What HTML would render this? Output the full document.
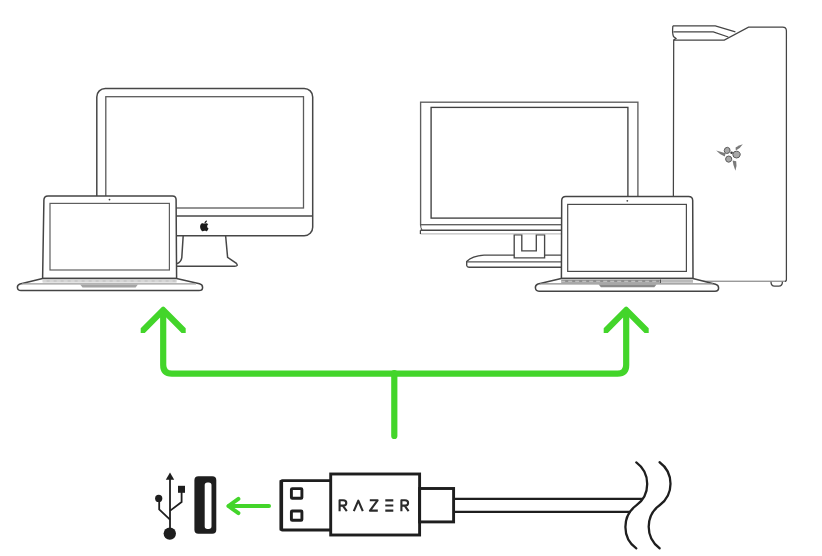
<!DOCTYPE html>
<html><head><meta charset="utf-8">
<style>
html,body{margin:0;padding:0;background:#fff;width:822px;height:556px;overflow:hidden;font-family:"Liberation Sans",sans-serif;}
svg{display:block}
</style></head>
<body>
<svg width="822" height="556" viewBox="0 0 822 556">
<rect width="822" height="556" fill="#fff"/>

<!-- ===== iMac ===== -->
<g fill="none" stroke="#474747" stroke-width="1.5">
  <!-- stand -->
  <path d="M183.2,235.5 L181.8,257.6 Q181.2,262 176.6,263.8 M225.6,235.5 L227.6,257.4 L236.4,263.4 Q238.6,266.2 234.8,266.2 L176,266.2" fill="#fff"/>
  <rect x="96.8" y="88.4" width="215.9" height="147.4" rx="8.5" fill="#fff"/>
  <rect x="105.8" y="96.7" width="197.7" height="111.3" stroke="#5a5a5a" stroke-width="1.3"/>
  <line x1="96.8" y1="216" x2="312.7" y2="216"/>
</g>
<!-- apple logo -->
<g fill="#1c1c1c" transform="translate(204.5,225.8) scale(0.78) translate(-204,-226)">
  <path d="M206.3,221.6 c0.6,-0.7 1,-1.6 0.9,-2.5 c-0.9,0.1 -1.9,0.6 -2.5,1.3 c-0.5,0.6 -1,1.6 -0.9,2.5 c1,0.1 1.9,-0.5 2.5,-1.3z M207.4,226.6 c0,-1.6 1.3,-2.4 1.4,-2.5 c-0.8,-1.1 -2,-1.3 -2.4,-1.3 c-1,-0.1 -2,0.6 -2.5,0.6 c-0.5,0 -1.3,-0.6 -2.2,-0.6 c-1.1,0 -2.2,0.7 -2.8,1.7 c-1.2,2.1 -0.3,5.1 0.8,6.8 c0.6,0.8 1.2,1.7 2.1,1.7 c0.8,0 1.2,-0.5 2.2,-0.5 c1,0 1.3,0.5 2.2,0.5 c0.9,0 1.5,-0.8 2,-1.7 c0.6,-0.9 0.9,-1.8 0.9,-1.9 c0,0 -1.7,-0.7 -1.7,-2.8z"/>
</g>

<!-- ===== left laptop ===== -->
<g fill="none" stroke="#444" stroke-width="1.5">
  <path d="M42.6,278.5 L43.9,200 Q44,195.9 48,195.9 L172.4,195.9 Q176.2,195.9 176.1,200 L176.6,278.5 Z" fill="#fff"/>
  <rect x="50" y="203.4" width="119.4" height="66.6" stroke-width="1.2" stroke="#5e5e5e"/>
  <path d="M42.6,278.4 L20,284 Q17.2,285 17.4,287.5 Q17.6,290.6 21,290.6 L199,290.6 Q202.6,290.6 202.6,287.5 Q202.6,284.6 199.5,283.8 L176.6,278.4 Z" fill="#fff"/>
  <line x1="42.6" y1="281" x2="176.6" y2="281" stroke="#cacaca" stroke-width="3"/>
  <line x1="42.6" y1="281" x2="176.6" y2="281" stroke="#e4e4e4" stroke-width="1.2" stroke-dasharray="4 3"/>
  <line x1="22" y1="283.9" x2="196" y2="283.9" stroke="#9a9a9a" stroke-width="1.1"/>
  <path d="M80.2,284.4 L137.9,284.4 L135.6,287.4 L82.5,287.4 Z" fill="#a4a4a4" stroke="none"/>
</g>
<circle cx="109.5" cy="199.6" r="0.9" fill="#444"/>

<!-- ===== right monitor ===== -->
<g fill="none" stroke="#474747" stroke-width="1.35">
  <!-- base -->
  <path d="M590,255.1 L484,255.1 Q472,256 466.7,261.5 L466.7,265.5 Q467,267.2 469,267.2 L590,267.2" fill="#fff"/>
  <line x1="466.7" y1="261.8" x2="590" y2="261.8" stroke="#555"/>
  <!-- neck -->
  <path d="M514.2,234.8 L514.2,257.8 L544.6,257.8 L544.6,234.8 L536.3,234.8 L536.3,250.8 L521.8,250.8 L521.8,234.8 Z" fill="#fff"/>
  <rect x="420.6" y="102.2" width="217.3" height="122.5" fill="#fff" stroke="#5e5e5e"/>
  <rect x="431.1" y="107.4" width="196.8" height="110.7" stroke="#404040"/>
  <path d="M420.4,230.2 L638,230.2 L638,234 L420.4,234 Z" fill="#fff" stroke="none"/>
  <line x1="420.4" y1="230.2" x2="638" y2="230.2" stroke-width="1.5"/>
  <line x1="420.4" y1="233.9" x2="638" y2="233.9" stroke="#b0b0b0" stroke-width="1"/>
  <path d="M420.4,230.2 L420.4,234" stroke-width="1.2"/>
  <path d="M420.6,224.7 Q420.6,228 422,230.2" stroke-width="1"/>
</g>

<!-- ===== tower ===== -->
<g fill="none" stroke="#444" stroke-width="1.25">
  <path d="M673.7,40.1 L673.2,281.4 L784.4,281.4 Q786.4,281.4 786.4,279.4 L786.4,31 Q786.4,27.2 782.6,27.2 L748.5,27.2 L724.3,40.1 Z" fill="#fff"/>
  <line x1="690" y1="281.4" x2="785" y2="281.4" stroke="#fff" stroke-width="1.6"/>
  <line x1="690" y1="281.4" x2="785" y2="281.4" stroke="#9a9a9a" stroke-width="1.1"/>
  <path d="M672.9,25.9 L715.3,25.9 L735.4,31.9" />
  <path d="M672.9,25.9 Q672,33 673.5,36.5 L676,38.5 L673.7,40.1"/>
  <path d="M673.4,31.9 L713.3,31.9 L728.3,37" stroke-width="1.3"/>
  <path d="M771,281.8 Q771,286.2 774.5,286.2 L778.8,286.2 Q782.4,286.2 782.4,281.8" stroke-width="1.3"/>
</g>
<!-- razer logo on tower -->
<defs><filter id="bl" x="-20%" y="-20%" width="140%" height="140%"><feGaussianBlur stdDeviation="0.4"/></filter></defs>
<g filter="url(#bl)">
 <g fill="#7a7a7a">
  <path d="M716.2,150.6 Q720,152 725.6,153.2 L724.8,156.4 Q720,155 716.2,150.6Z"/>
  <path d="M742.8,144.2 Q739,145 735.6,147.6 L735.8,150.6 Q740,148.6 742.8,144.2Z"/>
  <path d="M732.6,160.6 Q733,165 735.4,170.8 Q737.2,166 736.2,161.2Z"/>
 </g>
 <g fill="#a8a8a8" stroke="#5a5a5a" stroke-width="1">
  <path d="M724.2,150.6 Q724.6,147.2 727.4,147.3 Q730.4,147.6 730.1,151 Q729.5,153.5 726.7,153.5 Q724.3,153.3 724.2,150.6Z"/>
  <path d="M732.8,154.6 Q733,151 736.6,151.2 Q740.4,151.5 740.2,155 Q739.8,158 736.4,158 Q732.8,157.8 732.8,154.6Z"/>
  <path d="M725.6,159 Q725.8,156 728.8,156 Q731.8,156.2 731.8,159.2 Q731.4,162.2 728.6,162.2 Q725.6,162 725.6,159Z"/>
 </g>
 <circle cx="731.6" cy="152.8" r="1.3" fill="#3a3a3a"/>
</g>

<!-- ===== right laptop ===== -->
<g fill="none" stroke="#444" stroke-width="1.5">
  <path d="M561.4,278.5 L561.7,200.4 Q561.8,196.4 565.8,196.4 L688.6,196.4 Q692.6,196.4 692.7,200.4 L693,278.5 Z" fill="#fff"/>
  <rect x="567.7" y="204.4" width="118.7" height="67" stroke-width="1.2" stroke="#4a4a4a"/>
  <path d="M561.2,278.6 L538,284 Q535.2,285 535.4,287.8 Q535.6,291.2 539,291.2 L715,291.2 Q718.6,291.2 718.6,288 Q718.6,285 715.5,284.2 L693,278.6 Z" fill="#fff"/>
  <line x1="561.2" y1="281.2" x2="660.5" y2="281.2" stroke="#8e8e8e" stroke-width="3"/>
  <line x1="660.5" y1="281.2" x2="693" y2="281.2" stroke="#bababa" stroke-width="3"/>
  <line x1="561.2" y1="281.2" x2="660" y2="281.2" stroke="#cfcfcf" stroke-width="1.1" stroke-dasharray="4 3"/>
  <line x1="660.5" y1="279.5" x2="660.5" y2="283" stroke="#555" stroke-width="1"/>
  <line x1="540" y1="283.9" x2="713" y2="283.9" stroke="#8a8a8a" stroke-width="1.1"/>
  <path d="M598.7,284.6 L656.5,284.6 L654.3,287.2 L600.9,287.2 Z" fill="#8a8a8a" stroke="none"/>
</g>
<circle cx="627.3" cy="200.8" r="0.9" fill="#444"/>

<!-- ===== green arrows ===== -->
<g fill="none" stroke="#43d52a" stroke-width="6.2">
  <path d="M163.2,314 L163.2,365 Q163.2,373.6 171.8,373.6 L617.6,373.6 Q626.2,373.6 626.2,365 L626.2,314" stroke-linejoin="round"/>
  <path d="M394.3,373 L394.3,436" stroke-linecap="round"/>
</g>
<g fill="#43d52a">
  <path d="M140.7,328.3 L161.9,307.1 Q163.2,305.8 164.5,307.1 L185.7,328.3 L185.7,332.9 L181.6,332.9 L166.3,317.6 L160.1,317.6 L144.8,332.9 L140.7,332.9 Z"/>
  <path d="M603.7,328.3 L624.9,307.1 Q626.2,305.8 627.5,307.1 L648.7,328.3 L648.7,332.9 L644.6,332.9 L629.3,317.6 L623.1,317.6 L607.8,332.9 L603.7,332.9 Z"/>
</g>

<!-- ===== USB symbol ===== -->
<g fill="none" stroke="#1e1e1e" stroke-width="1.8">
  <line x1="170" y1="478" x2="170" y2="530"/>
  <path d="M159.2,500 L159.2,509.4 L170,519.6"/>
  <path d="M181.6,491 L181.6,502 L170.2,510.6"/>
</g>
<g fill="#1e1e1e">
  <path d="M170,472.6 L174.2,479.8 L165.8,479.8 Z"/>
  <circle cx="169.8" cy="533.6" r="6.2"/>
  <circle cx="158.7" cy="498.4" r="3.6"/>
  <rect x="178" y="485.8" width="7" height="7"/>
</g>
<!-- USB port -->
<path fill="#1e1e1e" fill-rule="evenodd" d="M198.4,476.3 L212.3,476.3 Q216.3,476.3 216.3,480.3 L216.3,529.7 Q216.3,533.7 212.3,533.7 L198.4,533.7 Q194.4,533.7 194.4,529.7 L194.4,480.3 Q194.4,476.3 198.4,476.3 Z M207.4,482.4 Q204.7,482.4 204.7,485.1 L204.7,526.2 Q204.7,528.9 207.4,528.9 L208.8,528.9 Q211.5,528.9 211.5,526.2 L211.5,485.1 Q211.5,482.4 208.8,482.4 Z"/>

<!-- small green arrow -->
<g fill="none" stroke="#43d52a" stroke-width="4" stroke-linecap="round" stroke-linejoin="round">
  <line x1="229" y1="506" x2="269" y2="506"/>
  <path d="M238.4,498.8 L228.4,506 L238.4,513.2"/>
</g>

<!-- ===== USB plug ===== -->
<g fill="none" stroke="#1e1e1e" stroke-width="2.9">
  <path d="M330.8,480.6 L282.4,480.6 Q281.3,480.6 281.3,481.8 L281.3,528.8 Q281.3,530 282.4,530 L330.8,530"/>
  <line x1="281.3" y1="480.2" x2="281.3" y2="530.4" stroke-width="3.6"/>
  <rect x="291.4" y="488.6" width="10.5" height="9.6" rx="0.8"/>
  <rect x="291.4" y="511" width="10.5" height="9.3" rx="0.8"/>
  <rect x="330.7" y="474" width="88.9" height="61" fill="#fff"/>
  <rect x="419.6" y="488.5" width="34" height="33.4"/>
  <line x1="453.6" y1="498.9" x2="642.4" y2="498.9" stroke-width="2.4"/>
  <line x1="453.6" y1="511.9" x2="630.6" y2="511.9" stroke-width="2.4"/>
</g>
<!-- RAZER -->
<g fill="none" stroke="#2a2a2a" stroke-width="2.1" stroke-linejoin="round">
  <path d="M339.6,511.2 L339.6,500.3 L343.2,500.3 Q346.3,500.3 346.3,503 Q346.3,505.6 343.2,505.6 L339.6,505.6 M342.8,505.6 L346.8,511.2"/>
  <path d="M353.8,511.2 L358.3,500.6 L362.8,511.2"/>
  <path d="M369.8,500.3 L377.6,500.3 L370,510.6 L377.8,510.6"/>
  <path d="M385.3,500.4 L393.3,500.4 M385.3,505.5 L393.3,505.5 M385.3,510.6 L393.3,510.6"/>
  <path d="M401.4,511.2 L401.4,500.3 L405,500.3 Q408.1,500.3 408.1,503 Q408.1,505.6 405,505.6 L401.4,505.6 M404.6,505.6 L408.6,511.2"/>
</g>

<!-- waves -->
<g fill="none" stroke="#1e1e1e" stroke-width="2.3" stroke-linecap="round">
  <path d="M636.3,462.4 A26.65,26.65 0 0 1 636.3,505.4 A26.65,26.65 0 0 0 636.3,548.4"/>
  <path d="M659.6,462.2 A26.65,26.65 0 0 1 659.6,505.2 A26.65,26.65 0 0 0 659.6,548.2"/>
</g>
</svg>
</body></html>
